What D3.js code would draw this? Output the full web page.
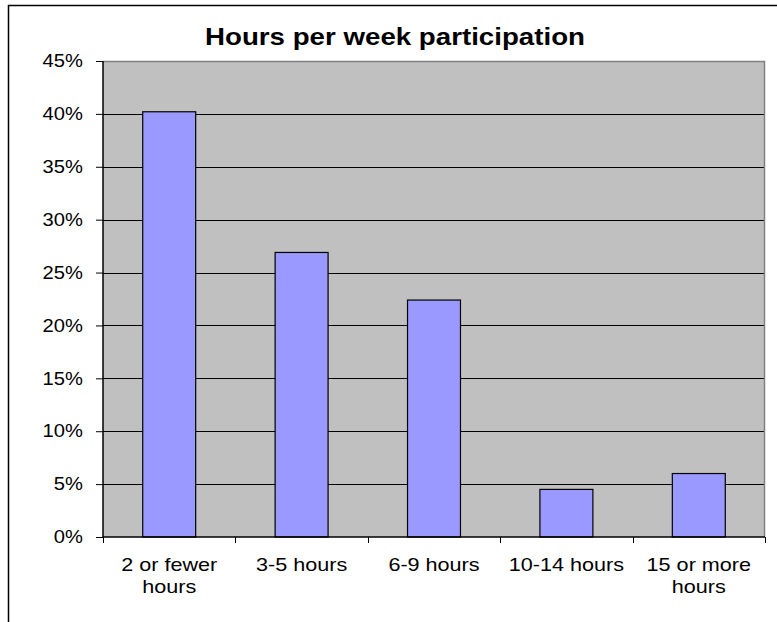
<!DOCTYPE html>
<html>
<head>
<meta charset="utf-8">
<script src="https://cdn.jsdelivr.net/npm/d3@7"></script>
<style>
    body { margin: 0; background: #fff; }
    text { font-family: "Liberation Sans", Arial, sans-serif; fill: #000; }
</style>
</head>
<body>
<div id="vis"></div>
<script>
// chart data
var categories = [["2 or fewer", "hours"], ["3-5 hours"], ["6-9 hours"], ["10-14 hours"], ["15 or more", "hours"]];
var shares = [40.2, 26.9, 22.4, 4.5, 6.0];
var yTicks = [0, 5, 10, 15, 20, 25, 30, 35, 40, 45];
var title = "Hours per week participation";

var width = 777,
    height = 622;
var margin = {top: 61, right: 12, bottom: 85, left: 103};
var plotW = width - margin.left - margin.right,
    plotH = height - margin.top - margin.bottom;

var svg = d3.select("#vis")
    .append("svg")
    .attr("width", width)
    .attr("height", height);

// outer chart border (right and bottom run off the page)
svg.append("path")
    .attr("d", "M8.5," + height + "V5.5H" + width)
    .attr("fill", "none")
    .attr("stroke", "#000")
    .attr("stroke-width", 1.5);

svg.append("text")
    .attr("x", 205)
    .attr("y", 45)
    .attr("textLength", 380)
    .attr("lengthAdjust", "spacingAndGlyphs")
    .style("font-size", "24px")
    .style("font-weight", "bold")
    .text(title);

var x = d3.scaleBand()
    .domain(d3.range(categories.length))
    .range([0, plotW])
    .paddingInner(0.6)
    .paddingOuter(0.3);

var y = d3.scaleLinear()
    .domain([0, 45])
    .range([plotH, 0]);

var g = svg.append("g")
    .attr("transform", "translate(" + margin.left + "," + margin.top + ")");

g.append("rect")
    .attr("width", plotW)
    .attr("height", plotH)
    .attr("fill", "#c0c0c0");

// gridlines
g.selectAll(".grid")
    .data(yTicks.slice(1, -1))
    .enter()
    .append("line")
    .attr("x1", 0)
    .attr("x2", plotW)
    .attr("y1", function(d) { return Math.round(y(d)) + 0.5; })
    .attr("y2", function(d) { return Math.round(y(d)) + 0.5; })
    .attr("stroke", "#000")
    .attr("stroke-width", 1);

// top and right plot frame in gray
g.append("path")
    .attr("d", "M0,0.5H" + (plotW - 0.5) + "V" + plotH)
    .attr("fill", "none")
    .attr("stroke", "#808080")
    .attr("stroke-width", 1.5);

// bars
g.selectAll(".bar")
    .data(shares)
    .enter()
    .append("rect")
    .attr("class", "bar")
    .attr("x", function(d, i) { return x(i); })
    .attr("y", function(d) { return y(d); })
    .attr("width", x.bandwidth())
    .attr("height", function(d) { return plotH - y(d); })
    .attr("fill", "#9999ff")
    .attr("stroke", "#000")
    .attr("stroke-width", 1.2);

// y axis
var yAxis = d3.axisLeft(y)
    .tickValues(yTicks)
    .tickSize(7)
    .tickPadding(11)
    .tickFormat(function(d) { return d + "%"; });

var yG = g.append("g").call(yAxis);
yG.select(".domain").attr("stroke", "#000").attr("stroke-width", 1.5).attr("d", "M0,0V" + plotH);
yG.selectAll("text")
    .style("font-size", "18px")
    .attr("font-family", null)
    .attr("transform", "scale(1.12,1)");
yG.selectAll("line").attr("stroke", "#000");

// x axis: line plus ticks at band edges
var bottom = g.append("g").attr("transform", "translate(0," + plotH + ")");
bottom.append("line")
    .attr("x1", 0)
    .attr("x2", plotW)
    .attr("stroke", "#000")
    .attr("stroke-width", 1.5);

bottom.selectAll(".xtick")
    .data(d3.range(categories.length + 1))
    .enter()
    .append("line")
    .attr("x1", function(d) { return Math.round(d * plotW / categories.length) + 0.5; })
    .attr("x2", function(d) { return Math.round(d * plotW / categories.length) + 0.5; })
    .attr("y1", 0)
    .attr("y2", 6)
    .attr("stroke", "#000");

var labels = bottom.selectAll(".xlabel")
    .data(categories)
    .enter()
    .append("text")
    .attr("text-anchor", "middle")
    .style("font-size", "18px")
    .attr("transform", function(d, i) { return "translate(" + (x(i) + x.bandwidth() / 2) + ",34) scale(1.2,1)"; });

labels.selectAll("tspan")
    .data(function(d) { return d; })
    .enter()
    .append("tspan")
    .attr("x", 0)
    .attr("dy", function(d, i) { return i === 0 ? 0 : 22; })
    .text(function(d) { return d; });
</script>
</body>
</html>
